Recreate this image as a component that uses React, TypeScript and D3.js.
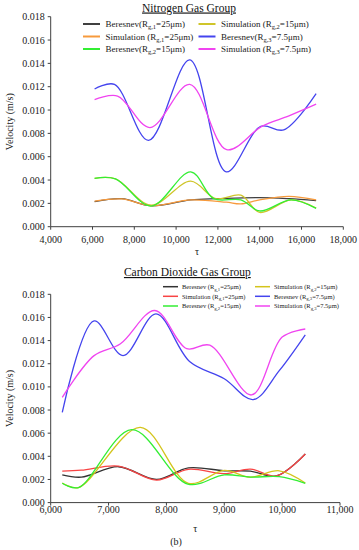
import React from "react";
import * as d3 from "d3";

type Pt = [number, number];

// ---------- Top chart: Nitrogen ----------
const n2Title = "Nitrogen Gas Group";
const n2XTicks = [4000, 6000, 8000, 10000, 12000, 14000, 16000, 18000];
const yTicks = [0, 0.002, 0.004, 0.006, 0.008, 0.01, 0.012, 0.014, 0.016, 0.018];

const n2BeresnevR1: Pt[] = [[6100, 0.00214], [7400, 0.0024], [8800, 0.0018], [10700, 0.0023], [12000, 0.0024], [14000, 0.0025], [15400, 0.0024], [16700, 0.00223]];
const n2SimR1: Pt[] = [[6100, 0.0022], [7400, 0.00238], [8800, 0.0018], [10700, 0.0023], [12400, 0.0021], [13100, 0.00195], [14000, 0.0023], [15400, 0.0026], [16700, 0.0023]];
const n2BeresnevR2: Pt[] = [[6100, 0.00415], [7100, 0.0041], [8800, 0.00177], [10700, 0.0047], [11800, 0.0024], [13100, 0.0023], [14000, 0.00135], [15500, 0.0023], [16700, 0.00157]];
const n2SimR2: Pt[] = [[6100, 0.00415], [7100, 0.0041], [8800, 0.00185], [10700, 0.0039], [11900, 0.0024], [13100, 0.0027], [14000, 0.00122], [15500, 0.0023], [16700, 0.0016]];
const n2BeresnevR3: Pt[] = [[6100, 0.0118], [7050, 0.0122], [8680, 0.0074], [10650, 0.0143], [12400, 0.0047], [14050, 0.0086], [15150, 0.0083], [16700, 0.0114]];
const n2SimR3: Pt[] = [[6100, 0.0109], [7200, 0.0112], [8750, 0.0085], [10650, 0.0122], [12420, 0.0066], [14100, 0.0086], [15400, 0.0095], [16700, 0.0105]];

// ---------- Bottom chart: CO2 ----------
const co2Title = "Carbon Dioxide Gas Group";
const co2XTicks = [6000, 7000, 8000, 9000, 10000, 11000];

const co2BeresnevR1: Pt[] = [[6200, 0.0024], [6530, 0.0022], [7170, 0.0031], [7830, 0.002], [8380, 0.003], [9000, 0.00275], [9450, 0.00272], [9900, 0.0023], [10400, 0.0042]];
const co2SimR1: Pt[] = [[6200, 0.00272], [6530, 0.0028], [7170, 0.00316], [7830, 0.00195], [8380, 0.00288], [9000, 0.0025], [9450, 0.0029], [9900, 0.0023], [10400, 0.0042]];
const co2BeresnevR2: Pt[] = [[6200, 0.00167], [6480, 0.0013], [7400, 0.0063], [8370, 0.0016], [9000, 0.0024], [9450, 0.0022], [9950, 0.00224], [10400, 0.00167]];
const co2SimR2: Pt[] = [[6200, 0.0017], [6480, 0.0013], [7550, 0.0065], [8380, 0.00167], [9000, 0.00278], [9450, 0.0022], [9950, 0.00275], [10400, 0.0017]];
const co2BeresnevR3: Pt[] = [[6200, 0.0078], [6750, 0.0157], [7250, 0.0127], [7820, 0.0163], [8400, 0.0122], [9000, 0.0107], [9500, 0.0089], [9950, 0.0114], [10400, 0.0145]];
const co2SimR3: Pt[] = [[6200, 0.0091], [6750, 0.0127], [7200, 0.0137], [7800, 0.0166], [8350, 0.0133], [8750, 0.0136], [9470, 0.0093], [10000, 0.0143], [10400, 0.015]];

const FONT = "'Liberation Serif', 'Times New Roman', serif";
const AXIS = "#404040";

interface Series { data: Pt[]; color: string; label: [string, string, string]; }

const n2Series: Series[] = [
  { data: n2BeresnevR1, color: "#404040", label: ["Beresnev(R", "g,1", "=25μm)"] },
  { data: n2SimR1, color: "#f79a3c", label: ["Simulation (R", "g,1", "=25μm)"] },
  { data: n2BeresnevR2, color: "#33ee33", label: ["Beresnev(R", "g,2", "=15μm)"] },
  { data: n2SimR2, color: "#cfc52a", label: ["Simulation (R", "g,2", "=15μm)"] },
  { data: n2BeresnevR3, color: "#4444ee", label: ["Beresnev(R", "g,3", "=7.5μm)"] },
  { data: n2SimR3, color: "#f044f0", label: ["Simulation (R", "g,3", "=7.5μm)"] },
];
const co2Series: Series[] = [
  { data: co2BeresnevR1, color: "#333333", label: ["Beresnev (R", "g,1", "=25μm)"] },
  { data: co2SimR1, color: "#f84444", label: ["Simulation (R", "g,1", "=25μm)"] },
  { data: co2BeresnevR2, color: "#33ee33", label: ["Beresnev (R", "g,2", "=15μm)"] },
  { data: co2SimR2, color: "#d4c41c", label: ["Simulation (R", "g,2", "=15μm)"] },
  { data: co2BeresnevR3, color: "#4444ee", label: ["Beresnev (R", "g,3", "=7.5μm)"] },
  { data: co2SimR3, color: "#f044f0", label: ["Simulation (R", "g,3", "=7.5μm)"] },
];

interface ChartProps {
  title: string; titleY: number;
  xDomain: [number, number]; xTicks: number[];
  xRange: [number, number]; yRange: [number, number];
  series: Series[];
  legend: { cols: number[]; rows: number[]; lineW: number; gap: number; font: number; sw: number };
  tickLabelY: number; tauY: number;
  drawOrder: number[];
}

function Chart(p: ChartProps) {
  const x = d3.scaleLinear().domain(p.xDomain).range(p.xRange);
  const y = d3.scaleLinear().domain([0, 0.018]).range(p.yRange);
  const line = d3.line<Pt>().x(d => x(d[0])).y(d => y(d[1])).curve(d3.curveCatmullRom.alpha(0.5));
  const fmt = d3.format(",");
  const yf = d3.format(".3f");
  const [x0, x1] = p.xRange;
  const [yb, yt] = p.yRange;
  const midY = (yb + yt) / 2;
  return (
    <g fontFamily={FONT}>
      <text x={(x0 + x1) / 2 - 8} y={p.titleY} textAnchor="middle" fontSize={11.5} textDecoration="underline" fill="#111">{p.title}</text>
      {/* axes */}
      <line x1={x0} x2={x0} y1={yt} y2={yb} stroke={AXIS} strokeWidth={1} />
      <line x1={x0} x2={x1} y1={yb} y2={yb} stroke={AXIS} strokeWidth={1} />
      {yTicks.map(t => (
        <g key={"y" + t}>
          <line x1={x0 - 3} x2={x0} y1={y(t)} y2={y(t)} stroke={AXIS} />
          <text x={x0 - 6} y={y(t)} dy="0.35em" textAnchor="end" fontSize={10} fill="#222">{yf(t)}</text>
        </g>
      ))}
      {p.xTicks.map(t => (
        <g key={"x" + t}>
          <line x1={x(t)} x2={x(t)} y1={yb} y2={yb + 3} stroke={AXIS} />
          <text x={x(t)} y={p.tickLabelY} dy="0.35em" textAnchor="middle" fontSize={10} fill="#222">{fmt(t)}</text>
        </g>
      ))}
      <text x={(x0 + x1) / 2} y={p.tauY} dy="0.35em" textAnchor="middle" fontSize={10} fill="#222">τ</text>
      <text transform={`translate(9,${midY}) rotate(-90)`} textAnchor="middle" dy="0.35em" fontSize={10} fill="#222">Velocity (m/s)</text>
      {/* lines */}
      {p.drawOrder.map(i => (
        <path key={"s" + i} d={line(p.series[i].data) || ""} fill="none" stroke={p.series[i].color} strokeWidth={1.3} />
      ))}
      {/* legend */}
      {p.series.map((s, i) => {
        const col = Math.floor(i / 3), row = i % 3;
        const lx = p.legend.cols[col], ly = p.legend.rows[row];
        const f = p.legend.font;
        return (
          <g key={"l" + i}>
            <line x1={lx} x2={lx + p.legend.lineW} y1={ly} y2={ly} stroke={s.color} strokeWidth={p.legend.sw} />
            <text x={lx + p.legend.lineW + p.legend.gap} y={ly} dy="0.35em" fontSize={f} fill="#222">
              {s.label[0]}
              <tspan fontSize={f * 0.72} dy={f * 0.25}>{s.label[1]}</tspan>
              <tspan dy={-f * 0.25}>{s.label[2]}</tspan>
            </text>
          </g>
        );
      })}
    </g>
  );
}

export default function App() {
  return (
    <svg width={359} height={550} style={{ position: "absolute", left: 0, top: 0, background: "#fff" }}>
      <rect width={359} height={550} fill="#fff" />
      <Chart
        title={n2Title} titleY={11.5}
        xDomain={[4000, 18000]} xTicks={n2XTicks}
        xRange={[50.7, 343.3]} yRange={[226.7, 16.7]}
        series={n2Series}
        legend={{ cols: [83, 198.5], rows: [24, 36.5, 49], lineW: 17, gap: 5.5, font: 9, sw: 2 }}
        tickLabelY={239} tauY={251.5}
        drawOrder={[4, 5, 0, 1, 3, 2]}
      />
      <Chart
        title={co2Title} titleY={276}
        xDomain={[6000, 11000]} xTicks={co2XTicks}
        xRange={[50.7, 340]} yRange={[502.6, 294.3]}
        series={co2Series}
        legend={{ cols: [163, 255], rows: [286.7, 296.3, 306], lineW: 15, gap: 4, font: 6.5, sw: 1.5 }}
        tickLabelY={509} tauY={528}
        drawOrder={[4, 5, 0, 1, 3, 2]}
      />
      <text x={176} y={541.7} dy="0.35em" textAnchor="middle" fontSize={10} fontFamily={FONT} fill="#222">(b)</text>
    </svg>
  );
}
